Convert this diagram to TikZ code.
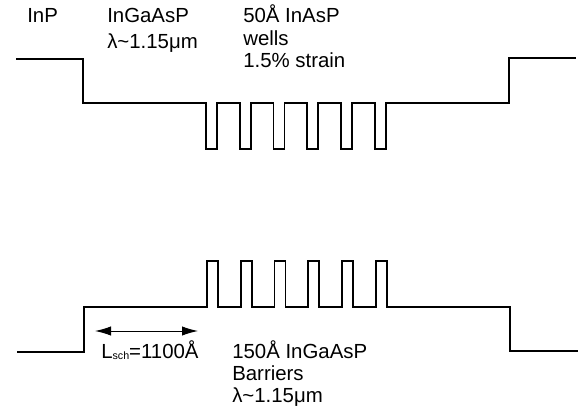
\documentclass[tikz,border=0pt]{standalone}
\usepackage{fontspec}
\setmainfont{Liberation Sans}
\usetikzlibrary{arrows.meta}

\begin{document}
\begin{tikzpicture}[
    x=0.75pt, y=-0.75pt,
    band/.style={line width=1.2pt, line join=miter}, % Style for band edges
    txt/.style={anchor=base west, inner sep=0pt, font=\fontsize{15.3}{17}\selectfont} % Style for labels
]
\useasboundingbox (0,0) rectangle (584,420);

% Upper band edge with six wells
\draw[band] (16,59) -- (83,59) -- (83,103)
    \foreach \i in {0,...,5} {
        -- ({206+33.75*\i},103) -- ++(0,46) -- ++(11,0) -- ++(0,-46)
    }
    -- (509,103) -- (509,58) -- (576,58);

% Lower band edge with six barriers
\draw[band] (17,352) -- (84,352) -- (84,307)
    \foreach \i in {0,...,5} {
        -- ({207+33.75*\i},307) -- ++(0,-46) -- ++(11,0) -- ++(0,46)
    }
    -- (510,307) -- (510,351) -- (578,351);

% Labels on top
\node[txt] (inp) at (27,23) {InP};
\node[txt] (ingaasp) at (107,23) {InGaAsP};
\node[txt] (lambdatop) at (107,49) {λ\textasciitilde 1.15μm};
\node[txt] (wellsize) at (243,23) {50Å InAsP};
\node[txt] (wells) at (243,46) {wells};
\node[txt] (strain) at (243,68) {1.5\% strain};

% SCH width
\coordinate (lsch-start) at (95,331);
\coordinate (lsch-end) at (198,331);
\draw[line width=0.75pt, {Latex[length=12pt,width=7pt]}-{Latex[length=12pt,width=7pt]}] (lsch-start) -- (lsch-end);
\node[txt] (lsch) at (101,358) {L\raisebox{-1pt}{\fontsize{8}{8}\selectfont sch}=1100Å};

% Labels below
\node[txt] (barsize) at (232,358) {150Å InGaAsP};
\node[txt] (barriers) at (232,380) {Barriers};
\node[txt] (lambdabot) at (232,402) {λ\textasciitilde 1.15μm};

\end{tikzpicture}
\end{document}
